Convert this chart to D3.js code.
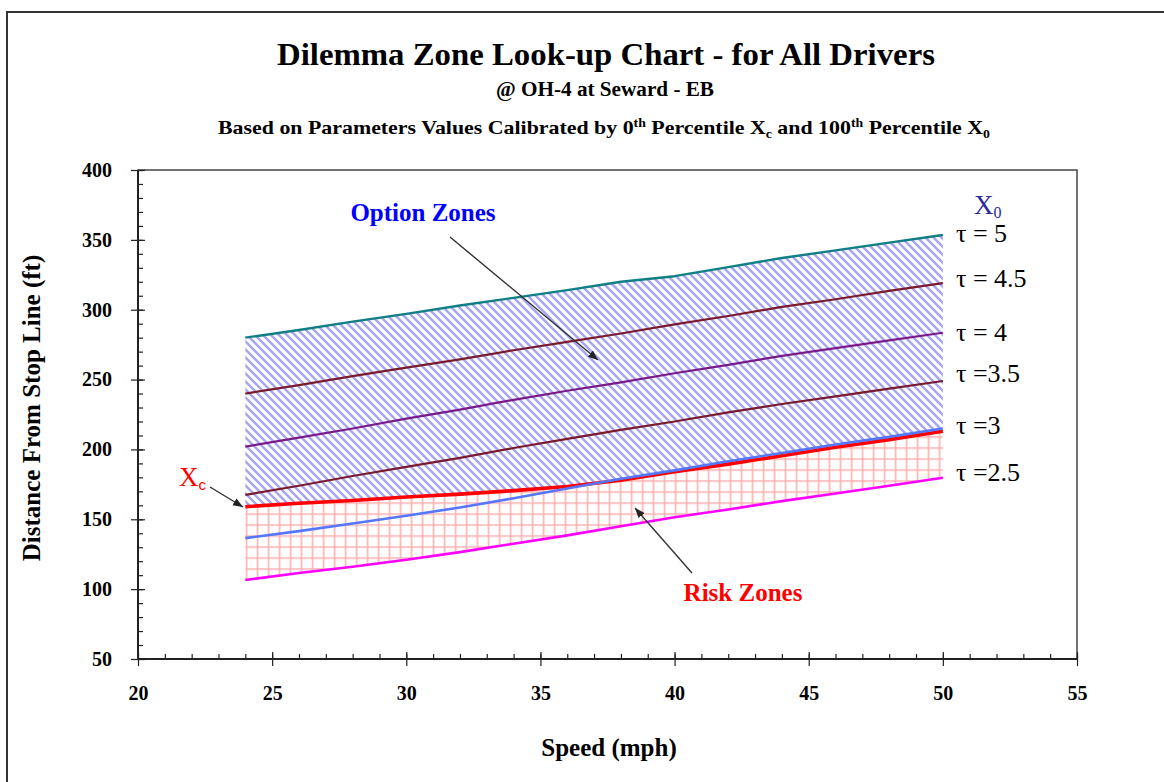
<!DOCTYPE html>
<html>
<head>
<meta charset="utf-8">
<script src="https://cdn.jsdelivr.net/npm/d3@7"></script>
<style>
  html, body { margin: 0; padding: 0; background: #fff; }
  svg { display: block; }
  text { font-family: "Liberation Serif", "Times New Roman", serif; }
</style>
</head>
<body>
<svg id="chart" width="1164" height="782"></svg>
<script>
// ---- data ----
const speeds = [24, 26, 28, 30, 32, 34, 36, 38, 40, 42, 44, 46, 48, 50];
const tau5   = [280, 285.5, 291.5, 297, 303, 308.5, 314, 320, 324, 330.5, 337, 342.5, 348, 353.5];
const tau45  = [240, 246, 252.5, 258.5, 264.5, 271, 277, 283, 289.5, 295.5, 302, 307.5, 313.5, 319];
const tau4   = [202, 208.5, 215, 222, 228.5, 235.5, 242, 248, 254.5, 260.5, 267, 272.5, 278, 283.5];
const tau35  = [167.5, 174, 181, 187.5, 194, 201, 207.5, 214, 220, 226.5, 232.5, 238, 243.5, 249];
const tau3   = [136.5, 141.5, 147, 152.5, 158.5, 165, 172, 179, 185, 191.5, 197.5, 203.5, 209, 215];
const tau25  = [106.5, 111.5, 116, 121, 126.5, 132.5, 138.5, 145, 151.5, 157, 163, 168.5, 174, 179.7];
const xc     = [159, 161.5, 163.5, 166, 168, 170.5, 173.5, 178, 184, 189.5, 195.5, 201.5, 207, 213];

const xMajorTicks = [20, 25, 30, 35, 40, 45, 50, 55];
const yMajorTicks = [50, 100, 150, 200, 250, 300, 350, 400];
const tauLabels = ["τ = 5", "τ = 4.5", "τ = 4", "τ =3.5", "τ =3", "τ =2.5"];

// ---- layout ----
const svg = d3.select("#chart");
const L = 138, R = 1077, T = 170, B = 659;
const x = d3.scaleLinear().domain([20, 55]).range([L, R]);
const y = d3.scaleLinear().domain([50, 400]).range([B, T]);

const rows = speeds.map((s, i) => ({
  s, t5: tau5[i], t45: tau45[i], t4: tau4[i], t35: tau35[i], t3: tau3[i], t25: tau25[i], xc: xc[i]
}));

// outer frame
svg.append("rect").attr("x", 7).attr("y", 12).attr("width", 1400).attr("height", 1000)
  .attr("fill", "#fff").attr("stroke", "#333").attr("stroke-width", 2);

// patterns
const defs = svg.append("defs");
const hatch = defs.append("pattern").attr("id", "hatch").attr("patternUnits", "userSpaceOnUse")
  .attr("width", 8).attr("height", 8);
hatch.append("path").attr("d", "M0,0 L8,8 M-1,7 L1,9 M7,-1 L9,1")
  .attr("stroke", "#a6a6f2").attr("stroke-width", 2.5);
const grid = defs.append("pattern").attr("id", "grid").attr("patternUnits", "userSpaceOnUse")
  .attr("width", 11).attr("height", 11).attr("x", 3.7).attr("y", 7.3);
grid.append("path").attr("d", "M0.8,0 V11 M0,0.8 H11")
  .attr("stroke", "#ffb0b0").attr("stroke-width", 1.6).attr("fill", "none");

// plot border
svg.append("rect").attr("x", L).attr("y", T).attr("width", R - L).attr("height", B - T)
  .attr("fill", "none").attr("stroke", "#444").attr("stroke-width", 1.5);

// zones
const upperRisk = d => Math.max(d.xc, d.t3);
svg.append("path").datum(rows)
  .attr("d", d3.area().x(d => x(d.s)).y0(d => y(upperRisk(d))).y1(d => y(d.t5)))
  .attr("fill", "url(#hatch)");
svg.append("path").datum(rows)
  .attr("d", d3.area().x(d => x(d.s)).y0(d => y(d.t25)).y1(d => y(upperRisk(d))))
  .attr("fill", "url(#grid)");

// lines
const series = [
  { key: "t5",  color: "#107f85", w: 2.4 },
  { key: "t45", color: "#7a1a2a", w: 2.2 },
  { key: "t4",  color: "#7a1a8a", w: 2.2 },
  { key: "t35", color: "#7a1a2a", w: 2.2 },
  { key: "t25", color: "#ff00ff", w: 2.6 },
  { key: "xc",  color: "#ff0000", w: 3.6 },
  { key: "t3",  color: "#5577ff", w: 2.6 }
];
series.forEach(sr => {
  svg.append("path").datum(rows)
    .attr("d", d3.line().x(d => x(d.s)).y(d => y(d[sr.key])))
    .attr("fill", "none").attr("stroke", sr.color).attr("stroke-width", sr.w)
    .attr("stroke-linejoin", "round");
});

// axes
svg.append("g").attr("transform", `translate(${L},0)`)
  .call(d3.axisLeft(y).tickValues(yMajorTicks).tickSize(7).tickPadding(19).tickFormat(d3.format("d")));
svg.append("g").attr("transform", `translate(${L},0)`)
  .call(d3.axisRight(y).tickValues(yMajorTicks).tickSize(7).tickFormat(""));
svg.append("g").attr("transform", `translate(${L},0)`)
  .call(d3.axisRight(y).tickValues(d3.range(50, 401, 10)).tickSize(5).tickFormat(""));

svg.append("g").attr("transform", `translate(0,${B})`)
  .call(d3.axisBottom(x).tickValues(xMajorTicks).tickSize(7).tickPadding(20).tickFormat(d3.format("d")));
svg.append("g").attr("transform", `translate(0,${B})`)
  .call(d3.axisTop(x).tickValues(xMajorTicks).tickSize(7).tickFormat(""));
svg.append("g").attr("transform", `translate(0,${B})`)
  .call(d3.axisTop(x).tickValues(d3.range(20, 56, 1)).tickSize(5).tickFormat(""));

svg.selectAll(".domain").remove();
svg.selectAll(".tick line").attr("stroke", "#222").attr("stroke-width", 1.2);
svg.selectAll(".tick text").attr("font-family", "Liberation Serif").attr("font-weight", "bold")
  .attr("font-size", 20).attr("fill", "#000");

svg.append("line").attr("x1", L).attr("x2", L).attr("y1", T).attr("y2", B)
  .attr("stroke", "#222").attr("stroke-width", 2);
svg.append("line").attr("x1", L).attr("x2", R).attr("y1", B).attr("y2", B)
  .attr("stroke", "#222").attr("stroke-width", 2);

// titles
svg.append("text").attr("x", 606).attr("y", 65).attr("text-anchor", "middle")
  .attr("font-size", 32).attr("font-weight", "bold")
  .attr("textLength", 658).attr("lengthAdjust", "spacingAndGlyphs")
  .text("Dilemma Zone Look-up Chart - for All Drivers");
svg.append("text").attr("x", 605).attr("y", 96).attr("text-anchor", "middle")
  .attr("font-size", 20).attr("font-weight", "bold")
  .attr("textLength", 218).attr("lengthAdjust", "spacingAndGlyphs")
  .text("@ OH-4 at Seward - EB");
const sub = svg.append("text").attr("x", 604).attr("y", 134).attr("text-anchor", "middle")
  .attr("font-size", 19).attr("font-weight", "bold")
  .attr("textLength", 772).attr("lengthAdjust", "spacingAndGlyphs");
sub.append("tspan").text("Based on Parameters Values Calibrated by 0");
sub.append("tspan").attr("font-size", 12).attr("dy", -7).text("th");
sub.append("tspan").attr("dy", 7).text(" Percentile X");
sub.append("tspan").attr("font-size", 12).attr("dy", 4).text("c");
sub.append("tspan").attr("dy", -4).text(" and 100");
sub.append("tspan").attr("font-size", 12).attr("dy", -7).text("th");
sub.append("tspan").attr("dy", 7).text(" Percentile X");
sub.append("tspan").attr("font-size", 12).attr("dy", 4).text("0");

// axis titles
svg.append("text").attr("x", 609).attr("y", 756).attr("text-anchor", "middle")
  .attr("font-size", 25).attr("font-weight", "bold").text("Speed (mph)");
svg.append("text").attr("transform", "translate(40,408) rotate(-90)").attr("text-anchor", "middle")
  .attr("font-size", 25).attr("font-weight", "bold").text("Distance From Stop Line (ft)");

// tau labels
const tauY = [242, 287, 341, 382, 434, 481];
tauLabels.forEach((t, i) => {
  svg.append("text").attr("x", 956).attr("y", tauY[i]).attr("font-size", 26).attr("fill", "#000").text(t);
});

// X0 label
const x0 = svg.append("text").attr("x", 974).attr("y", 214).attr("font-size", 27).attr("fill", "#2a2a99");
x0.append("tspan").text("X");
x0.append("tspan").attr("font-size", 16).attr("dy", 4).text("0");

// Xc label
const xcl = svg.append("text").attr("x", 179).attr("y", 486).attr("font-size", 27).attr("fill", "#ff0000");
xcl.append("tspan").text("X");
xcl.append("tspan").attr("font-size", 15).attr("dy", 4).attr("font-family", "Liberation Sans").text("c");

// annotations
svg.append("text").attr("x", 423).attr("y", 221).attr("text-anchor", "middle")
  .attr("font-size", 25).attr("font-weight", "bold").attr("fill", "#0000ff").text("Option Zones");
svg.append("text").attr("x", 743).attr("y", 601).attr("text-anchor", "middle")
  .attr("font-size", 25).attr("font-weight", "bold").attr("fill", "#ff0000").text("Risk Zones");

// arrows
defs.append("marker").attr("id", "arrow").attr("viewBox", "0 0 10 10").attr("refX", 10).attr("refY", 5)
  .attr("markerWidth", 10).attr("markerHeight", 10).attr("markerUnits", "userSpaceOnUse")
  .attr("orient", "auto")
  .append("path").attr("d", "M0,1 L10,5 L0,9 Z").attr("fill", "#222");
const arrows = [
  [450, 237, 598, 360],
  [692, 573, 635, 508],
  [210, 487, 243, 507]
];
arrows.forEach(a => {
  svg.append("line").attr("x1", a[0]).attr("y1", a[1]).attr("x2", a[2]).attr("y2", a[3])
    .attr("stroke", "#333").attr("stroke-width", 1.4).attr("marker-end", "url(#arrow)");
});
</script>
</body>
</html>
